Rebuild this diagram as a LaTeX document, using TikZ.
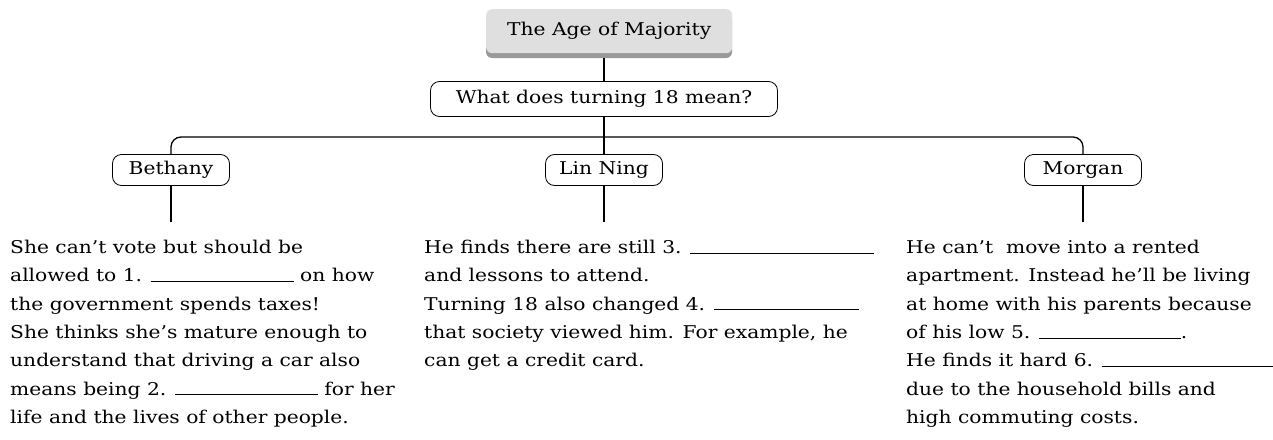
\documentclass[tikz,border=0pt]{standalone}
\usepackage{fontspec}
\setmainfont{DejaVu Serif}[FakeStretch=1.15]
\newcommand\blankline[1]{\rule{#1pt}{0.9pt}}
\begin{document}
\begin{tikzpicture}[x=1pt,y=-1pt,
  pill/.style={draw, line width=0.8pt, rounded corners=9pt, minimum height=31pt, minimum width=117pt, inner sep=0pt, font=\fontsize{17.6}{20}\selectfont},
  conn/.style={line width=1.3pt},
  body/.style={anchor=north west, align=left, inner sep=0pt, font=\fontsize{17.6}{28.3}\selectfont}]
\useasboundingbox (0,0) rectangle (1273,439);
% title
\fill[gray!80, rounded corners=6pt] (486,12) rectangle (732,58);
\node[fill=gray!25, rounded corners=6pt, minimum width=246pt, minimum height=44pt, inner sep=0pt, anchor=north west, font=\fontsize{17.6}{20}\selectfont] (title) at (486,9) {The Age of Majority};
\node[pill, minimum width=347pt, minimum height=35pt] (q) at (604,99) {What does turning 18 mean?};
\node[pill] (beth) at (171,170) {Bethany};
\node[pill] (lin) at (604,170) {Lin Ning};
\node[pill] (mor) at (1083,170) {Morgan};
\coordinate (tb) at (604,58);
\coordinate (bj) at (604,137);
\coordinate (be) at (171,222);
\coordinate (le) at (604,222);
\coordinate (me) at (1083,222);
\draw[conn] (tb) -- (q.north);
\draw[conn] (q.south) -- (lin.north);
\draw[conn, rounded corners=10pt] (beth.north) |- (bj) -| (mor.north);
\draw[conn] (beth.south) -- (be);
\draw[conn] (lin.south) -- (le);
\draw[conn] (mor.south) -- (me);
\node[body] (tb) at (10,240) {She can’t vote but should be\\
allowed to 1. \blankline{143} on how\\
the government spends taxes!\\
She thinks she’s mature enough to\\
understand that driving a car also\\
means being 2. \blankline{143} for her\\
life and the lives of other people.};
\node[body] (tl) at (424,240) {He finds there are still 3. \blankline{184}\\
and lessons to attend.\\
Turning 18 also changed 4. \blankline{145}\\
that society viewed him. For example, he\\
can get a credit card.};
\node[body] (tm) at (906,240) {He can’t\ \ move into a rented\\
apartment. Instead he’ll be living\\
at home with his parents because\\
of his low 5. \blankline{142}.\\
He finds it hard 6. \blankline{171}\\
due to the household bills and\\
high commuting costs.};
\end{tikzpicture}
\end{document}
